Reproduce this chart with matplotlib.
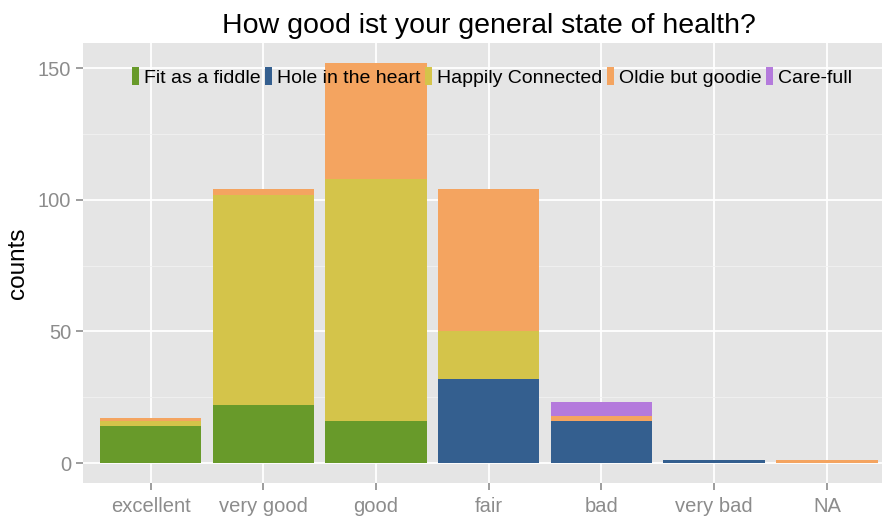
import numpy as np
import matplotlib.pyplot as plt
from matplotlib.patches import Patch

plt.rcParams['font.family'] = ['Liberation Sans', 'DejaVu Sans']

# Data
categories = ["excellent", "very good", "good", "fair", "bad", "very bad", "NA"]
groups = ["Fit as a fiddle", "Hole in the heart", "Happily Connected",
          "Oldie but goodie", "Care-full"]
fit_as_a_fiddle = [14, 22, 16, 0, 0, 0, 0]
hole_in_the_heart = [0, 0, 0, 32, 16, 1, 0]
happily_connected = [2, 80, 92, 18, 0, 0, 0]
oldie_but_goodie = [1, 2, 44, 54, 2, 0, 1]
care_full = [0, 0, 0, 0, 5, 0, 0]

series = [fit_as_a_fiddle, hole_in_the_heart, happily_connected,
          oldie_but_goodie, care_full]
colors = ["#689a2a", "#345f8f", "#d4c44a", "#f4a460", "#b47adc"]

fig = plt.figure(figsize=(8.82, 5.21), dpi=100)
# panel runs slightly past the right edge of the figure, as in the original
ax = fig.add_axes([0.0941, 0.0729, 0.920, 0.8446])
ax.set_facecolor("#e5e5e5")

x = np.arange(len(categories))
bottom = np.zeros(len(categories))
for vals, col in zip(series, colors):
    vals = np.array(vals, dtype=float)
    ax.bar(x, vals, width=0.9, bottom=bottom, color=col, linewidth=0, zorder=3)
    bottom += vals

ax.set_xlim(-0.6, 6.6)
ax.set_ylim(-7.6, 159.6)
ax.set_xticks(x)
ax.set_xticklabels(categories)
ax.set_yticks([0, 50, 100, 150])
ax.set_yticks([25, 75, 125], minor=True)

ax.grid(True, which="major", color="white", linewidth=1.3, zorder=0)
ax.grid(True, which="minor", axis="y", color="#f2f2f2", linewidth=0.6, zorder=0)
ax.set_axisbelow(True)
for s in ax.spines.values():
    s.set_visible(False)

ax.tick_params(axis="both", which="major", colors="#8c8c8c", labelsize=14.5,
               length=5, width=1.2, labelcolor="#8c8c8c")
ax.tick_params(axis="x", which="major", pad=5)
ax.tick_params(axis="both", which="minor", length=0)

ax.set_ylabel("counts", fontsize=17.5, labelpad=6)
ax.set_title("How good ist your general state of health?", fontsize=20.5, pad=7)

handles = [Patch(facecolor=c, edgecolor="none") for c in colors]
ax.legend(handles, groups, loc="center", bbox_to_anchor=(0.504, 0.923),
          ncol=5, frameon=False, fontsize=14, handlelength=0.35,
          handleheight=1.0, handletextpad=0.25, columnspacing=0.25,
          borderaxespad=0)

fig.savefig("out.png", dpi=100)
